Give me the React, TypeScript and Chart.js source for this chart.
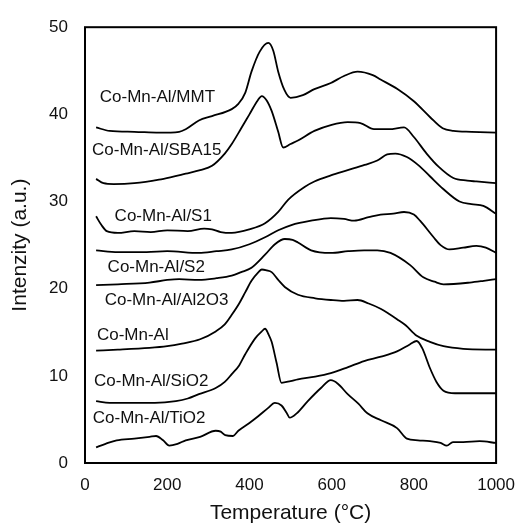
import React, { useEffect, useRef } from "react";
import { Chart, registerables } from "chart.js";

Chart.register(...registerables);

const FONT = "'Liberation Sans', Arial, Helvetica, sans-serif";

// Series data: temperature (°C) and intensity (a.u.)
const mmtT = [27, 60, 120, 180, 229, 245, 277, 309, 357, 373, 390, 405, 425, 446, 458, 470, 485, 500, 530, 558, 598, 630, 663, 700, 719, 760, 800, 839, 870, 896, 940, 1000];
const mmtI = [38.5, 38.1, 38.0, 37.9, 38.0, 38.3, 39.3, 39.8, 40.6, 41.2, 42.5, 44.9, 47.2, 48.2, 47.3, 44.9, 42.8, 41.9, 42.2, 42.9, 43.6, 44.4, 44.9, 44.5, 44.0, 42.9, 41.5, 39.7, 38.4, 38.1, 38.0, 37.9];

const sbaT = [27, 45, 70, 120, 180, 210, 245, 280, 309, 340, 357, 380, 400, 420, 430, 442, 454, 470, 482, 500, 518, 558, 600, 639, 670, 703, 740, 776, 800, 831, 860, 896, 930, 952, 1000];
const sbaI = [32.6, 32.1, 32.0, 32.1, 32.5, 32.8, 33.2, 33.6, 34.1, 35.5, 36.6, 38.4, 40.0, 41.6, 42.1, 41.6, 40.4, 38.0, 36.2, 36.6, 37.0, 38.1, 38.8, 39.1, 39.0, 38.3, 38.3, 38.5, 37.4, 35.5, 34.0, 32.7, 32.4, 32.3, 32.1];

const s1T = [27, 40, 53, 80, 120, 160, 200, 250, 290, 309, 330, 357, 400, 438, 470, 494, 535, 558, 598, 639, 680, 711, 735, 755, 783, 810, 839, 870, 911, 940, 969, 1000];
const s1I = [28.3, 27.3, 26.6, 26.4, 26.6, 26.5, 26.7, 26.6, 26.9, 26.8, 26.5, 26.4, 26.8, 27.5, 28.8, 30.2, 31.7, 32.3, 33.0, 33.6, 34.2, 34.7, 35.4, 35.5, 35.1, 34.2, 32.9, 31.5, 30.0, 29.7, 29.5, 28.6];

const s2T = [27, 80, 150, 200, 277, 320, 357, 400, 438, 470, 502, 550, 598, 630, 655, 690, 719, 750, 776, 800, 815, 848, 865, 887, 920, 952, 975, 1000];
const s2I = [24.4, 24.2, 24.2, 24.3, 24.1, 24.3, 24.5, 25.1, 25.9, 26.7, 27.3, 27.8, 28.1, 28.0, 27.8, 28.2, 28.5, 28.6, 28.8, 28.5, 27.8, 25.9, 25.0, 24.5, 24.7, 24.9, 24.7, 24.1];

const al2o3T = [27, 80, 157, 200, 229, 277, 320, 357, 380, 405, 438, 462, 486, 505, 518, 550, 598, 640, 679, 711, 743, 791, 823, 850, 872, 936, 970, 1000];
const al2o3I = [20.4, 20.5, 20.7, 21.0, 21.1, 21.0, 21.2, 21.5, 21.9, 22.4, 23.9, 25.1, 25.7, 25.6, 25.3, 24.4, 24.1, 24.3, 24.4, 24.4, 24.1, 22.7, 21.3, 20.8, 20.5, 20.7, 20.9, 21.1];

const cmaT = [27, 80, 157, 200, 236, 280, 318, 340, 357, 375, 390, 405, 422, 430, 442, 454, 470, 486, 518, 560, 598, 630, 663, 690, 719, 740, 759, 780, 807, 839, 872, 920, 1000];
const cmaI = [12.9, 13.0, 13.2, 13.4, 13.7, 14.2, 15.1, 15.9, 17.0, 18.3, 19.6, 20.9, 21.9, 22.2, 22.1, 21.9, 21.0, 20.2, 19.3, 18.9, 18.7, 18.6, 18.7, 18.3, 17.7, 17.1, 16.5, 15.8, 14.6, 13.9, 13.4, 13.1, 13.0];

const sio2T = [27, 60, 116, 170, 221, 250, 277, 318, 340, 357, 375, 390, 414, 430, 438, 446, 454, 466, 478, 500, 518, 560, 598, 640, 679, 720, 759, 790, 807, 820, 839, 855, 872, 900, 920, 1000];
const sio2I = [7.1, 6.9, 6.9, 6.9, 7.1, 7.4, 7.9, 8.6, 9.3, 10.2, 11.2, 12.5, 14.3, 15.1, 15.4, 14.8, 13.9, 11.5, 9.2, 9.4, 9.6, 9.9, 10.3, 11.0, 11.7, 12.2, 12.8, 13.6, 14.0, 13.2, 10.9, 9.3, 8.3, 8.0, 8.0, 8.0];

const tio2T = [27, 50, 77, 120, 157, 173, 190, 205, 225, 245, 280, 318, 330, 341, 360, 373, 400, 422, 445, 462, 478, 490, 498, 515, 542, 574, 598, 615, 639, 665, 687, 720, 759, 783, 810, 839, 865, 880, 895, 920, 960, 1000];
const tio2I = [1.8, 2.2, 2.6, 2.8, 3.0, 3.1, 2.6, 2.0, 2.2, 2.6, 3.0, 3.7, 3.6, 3.2, 3.1, 3.7, 4.6, 5.4, 6.3, 6.9, 6.6, 5.8, 5.2, 5.7, 7.1, 8.6, 9.5, 9.1, 7.9, 6.8, 5.7, 4.9, 4.0, 2.8, 2.6, 2.5, 2.3, 2.0, 2.4, 2.4, 2.5, 2.3];

const seriesNames = ["Co-Mn-Al/MMT", "Co-Mn-Al/SBA15", "Co-Mn-Al/S1", "Co-Mn-Al/S2", "Co-Mn-Al/Al2O3", "Co-Mn-Al", "Co-Mn-Al/SiO2", "Co-Mn-Al/TiO2"];
const seriesT = [mmtT, sbaT, s1T, s2T, al2o3T, cmaT, sio2T, tio2T];
const seriesI = [mmtI, sbaI, s1I, s2I, al2o3I, cmaI, sio2I, tio2I];

// Curve label anchors (data units: temperature, intensity)
const labelText = ["Co-Mn-Al/MMT", "Co-Mn-Al/SBA15", "Co-Mn-Al/S1", "Co-Mn-Al/S2", "Co-Mn-Al/Al2O3", "Co-Mn-Al", "Co-Mn-Al/SiO2", "Co-Mn-Al/TiO2"];
const labelX = [36, 17, 72, 55, 48, 29, 22, 19];
const labelY = [41.9, 35.9, 28.3, 22.4, 18.7, 14.7, 9.4, 5.1];

const xTicks = [0, 200, 400, 600, 800, 1000];
const yTicks = [0, 10, 20, 30, 40, 50];

const labelsPlugin = {
  id: "curveLabels",
  afterDatasetsDraw(chart: any) {
    const { ctx, chartArea, scales } = chart;
    ctx.save();
    ctx.strokeStyle = "#000";
    ctx.lineWidth = 2;
    ctx.strokeRect(chartArea.left, chartArea.top, chartArea.right - chartArea.left, chartArea.bottom - chartArea.top);
    ctx.fillStyle = "#111";
    ctx.font = `17px ${FONT}`;
    ctx.textAlign = "left";
    ctx.textBaseline = "middle";
    labelText.forEach((t, i) => {
      const x = scales.x.getPixelForValue(labelX[i]);
      const y = scales.y.getPixelForValue(labelY[i]);
      ctx.fillText(t, x, y);
    });
    ctx.restore();
  },
};

export default function App() {
  const ref = useRef<HTMLCanvasElement>(null);
  useEffect(() => {
    const datasets = seriesNames.map((name, i) => ({
      label: name,
      data: seriesT[i].map((t, j) => ({ x: t, y: seriesI[i][j] })),
      borderColor: "#000",
      borderWidth: 1.8,
      pointRadius: 0,
      fill: false,
      cubicInterpolationMode: "monotone" as const,
    }));
    const chart = new Chart(ref.current!, {
      type: "line",
      data: { datasets },
      options: {
        animation: false,
        responsive: false,
        layout: { padding: { left: 0, right: 27, top: 22, bottom: 0 } },
        plugins: { legend: { display: false }, tooltip: { enabled: false } },
        scales: {
          x: {
            type: "linear",
            min: 0,
            max: 1000,
            afterBuildTicks: (s: any) => { s.ticks = xTicks.map((v) => ({ value: v })); },
            afterFit: (s: any) => { s.height = 63; },
            ticks: { color: "#111", font: { family: FONT, size: 17 }, padding: 12, maxRotation: 0, callback: (v: any) => String(v) },
            grid: { display: false, drawTicks: false },
            border: { display: false },
            title: { display: true, text: "Temperature (°C)", color: "#111", font: { family: FONT, size: 21 }, padding: { top: 0, bottom: 0 } },
          },
          y: {
            type: "linear",
            min: 0,
            max: 50,
            afterBuildTicks: (s: any) => { s.ticks = yTicks.map((v) => ({ value: v })); },
            afterFit: (s: any) => { s.width = 85; },
            ticks: { color: "#111", font: { family: FONT, size: 17 }, padding: 17, callback: (v: any) => String(v) },
            grid: { display: false, drawTicks: false },
            border: { display: false },
            title: { display: true, text: "Intenzity (a.u.)", color: "#111", font: { family: FONT, size: 21 }, padding: { top: 8, bottom: 0 } },
          },
        },
      },
      plugins: [labelsPlugin],
    });
    return () => chart.destroy();
  }, []);
  return (
    <div style={{ position: "fixed", left: 0, top: 0, width: 527, height: 526, background: "#fff" }}>
      <canvas ref={ref} width={527} height={526} style={{ display: "block" }} />
    </div>
  );
}
